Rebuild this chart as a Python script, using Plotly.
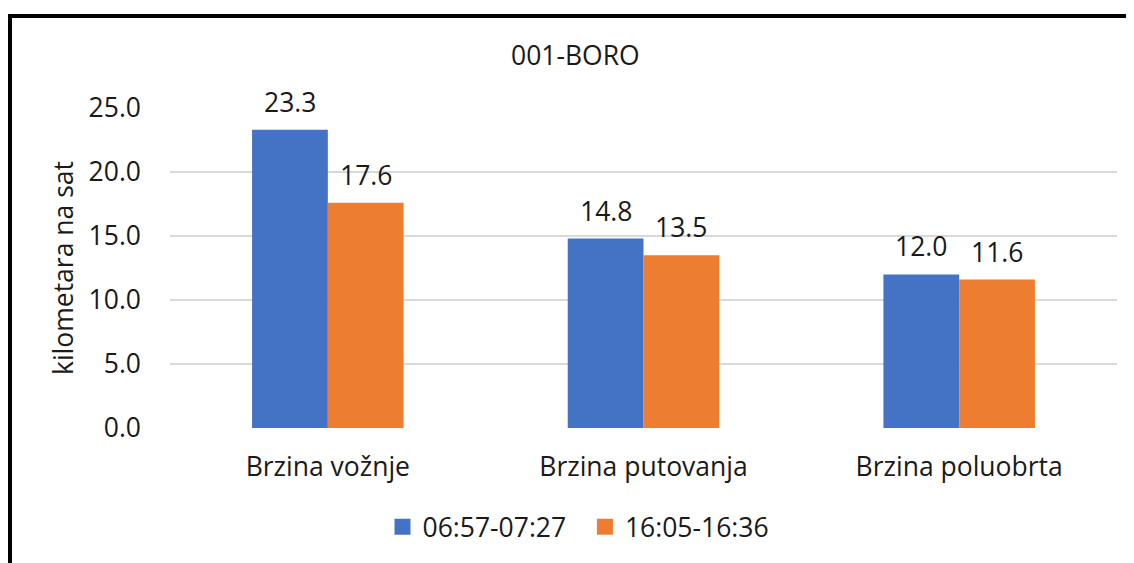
import plotly.graph_objects as go

categories = ["Brzina vožnje", "Brzina putovanja", "Brzina poluobrta"]
series_names = ["06:57-07:27", "16:05-16:36"]
morning = [23.3, 14.8, 12.0]
afternoon = [17.6, 13.5, 11.6]
y_ticks = [0, 5, 10, 15, 20, 25]
title_text = "001-BORO"
y_title = "kilometara na sat"

colors = ["#4472C4", "#ED7D31"]
FONT = "Open Sans, DejaVu Sans, sans-serif"
TXT = "#1a1a1a"
FS = 26.5

OFF = 8  # page body margin
W, H = 1126, 555
L, R, T, B = 162, 17, 100, 135
pw, ph = W - L - R, H - T - B


def px(x):
    return (x - OFF - L) / pw


def py(y):
    return (H - B - (y - OFF)) / ph


fig = go.Figure()
annotations = []
half = pw / 3 * (1 - 0.52) / 4
for i, (name, vals, c) in enumerate(zip(series_names, [morning, afternoon], colors)):
    fig.add_trace(go.Bar(
        x=categories, y=vals, name=name, marker=dict(color=c, line=dict(width=0)),
        showlegend=False, legendgroup=name,
    ))
    for cat, v in zip(categories, vals):
        annotations.append(dict(
            x=cat, y=v, xref="x", yref="y", text=f"{v:.1f}", showarrow=False,
            xshift=(-half if i == 0 else half), yshift=8, yanchor="bottom",
            font=dict(size=FS, color=TXT, family=FONT),
        ))

# legend entries with larger square swatches
for name, c in zip(series_names, colors):
    fig.add_trace(go.Scatter(
        x=[None], y=[None], mode="markers", name=name + "  ", legendgroup=name,
        marker=dict(symbol="square", size=16, color=c, line=dict(width=0)),
        showlegend=True,
    ))

annotations += [
    dict(text=title_text, x=px(575), y=py(55), xref="paper", yref="paper",
         showarrow=False, font=dict(size=FS, color=TXT, family=FONT), xanchor="center", yanchor="middle"),
    dict(text=y_title, x=px(63), y=py(268), xref="paper", yref="paper", textangle=-90,
         showarrow=False, font=dict(size=FS, color=TXT, family=FONT), xanchor="center", yanchor="middle"),
]

fig.update_layout(
    width=W, height=H,
    margin=dict(l=L, r=R, t=T, b=B),
    paper_bgcolor="white", plot_bgcolor="white",
    barmode="group", bargap=0.52, bargroupgap=0,
    font=dict(family=FONT, size=FS, color=TXT),
    showlegend=True,
    legend=dict(orientation="h", x=px(585), xanchor="center", y=py(527), yanchor="middle",
                font=dict(size=FS, color=TXT, family=FONT), traceorder="normal", itemwidth=30),
    xaxis=dict(showgrid=False, showline=False, zeroline=False, ticks="",
               ticklabelstandoff=20, tickfont=dict(size=FS, color=TXT)),
    yaxis=dict(range=[0, 25], tickvals=y_ticks, ticktext=[f"{v:.1f}" for v in y_ticks],
               showgrid=True, gridcolor="#D9D9D9", gridwidth=1.5, zeroline=False,
               showline=False, ticks="", ticklabelstandoff=28, tickfont=dict(size=FS, color=TXT)),
    annotations=annotations,
    shapes=[
        dict(type="line", xref="paper", yref="paper", x0=px(10), x1=px(10), y0=py(580), y1=py(14),
             line=dict(color="black", width=4)),
        dict(type="line", xref="paper", yref="paper", x0=px(8), x1=px(1150), y0=py(16), y1=py(16),
             line=dict(color="black", width=4)),
    ],
)

fig.write_html("out.html")
